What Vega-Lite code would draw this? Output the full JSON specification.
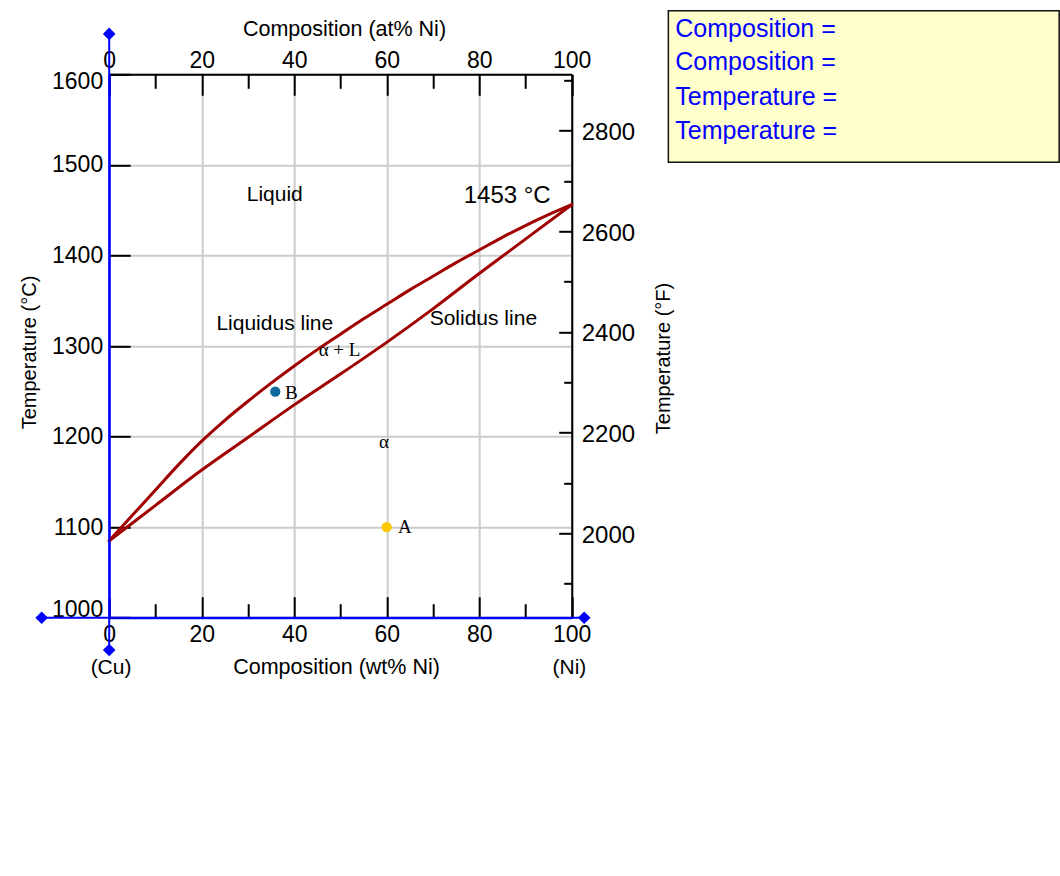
{
  "$schema": "https://vega.github.io/schema/vega-lite/v6.json",
  "width": 462.5,
  "height": 543.4,
  "autosize": {"type": "none"},
  "padding": {"left": 109.2, "top": 74.3, "right": 488.3, "bottom": 258.3},
  "background": "white",
  "config": {
    "view": {"stroke": null},
    "font": "Liberation Sans",
    "axis": {"labelFont": "Liberation Sans", "titleFont": "Liberation Sans", "labelColor": "black", "titleColor": "black", "titleFontWeight": "normal", "tickColor": "black", "tickWidth": 2, "domainWidth": 2}
  },
  "datasets": {
    "curves": [
      {"curve": "Liquidus", "wt": 0, "T": 1085}, {"curve": "Liquidus", "wt": 5, "T": 1113},
      {"curve": "Liquidus", "wt": 10, "T": 1141}, {"curve": "Liquidus", "wt": 15, "T": 1169}, {"curve": "Liquidus", "wt": 20, "T": 1195},
      {"curve": "Liquidus", "wt": 25, "T": 1218}, {"curve": "Liquidus", "wt": 30, "T": 1239}, {"curve": "Liquidus", "wt": 35, "T": 1259},
      {"curve": "Liquidus", "wt": 40, "T": 1278}, {"curve": "Liquidus", "wt": 45, "T": 1296}, {"curve": "Liquidus", "wt": 50, "T": 1313},
      {"curve": "Liquidus", "wt": 55, "T": 1330}, {"curve": "Liquidus", "wt": 60, "T": 1346}, {"curve": "Liquidus", "wt": 65, "T": 1362},
      {"curve": "Liquidus", "wt": 70, "T": 1377}, {"curve": "Liquidus", "wt": 75, "T": 1392}, {"curve": "Liquidus", "wt": 80, "T": 1406},
      {"curve": "Liquidus", "wt": 85, "T": 1420}, {"curve": "Liquidus", "wt": 90, "T": 1433}, {"curve": "Liquidus", "wt": 95, "T": 1445},
      {"curve": "Liquidus", "wt": 100, "T": 1456},
      {"curve": "Solidus", "wt": 0, "T": 1085}, {"curve": "Solidus", "wt": 10, "T": 1124}, {"curve": "Solidus", "wt": 20, "T": 1163},
      {"curve": "Solidus", "wt": 30, "T": 1199}, {"curve": "Solidus", "wt": 40, "T": 1235}, {"curve": "Solidus", "wt": 50, "T": 1269},
      {"curve": "Solidus", "wt": 60, "T": 1304}, {"curve": "Solidus", "wt": 70, "T": 1341}, {"curve": "Solidus", "wt": 80, "T": 1380},
      {"curve": "Solidus", "wt": 90, "T": 1418}, {"curve": "Solidus", "wt": 100, "T": 1456}
    ],
    "cursorLines": [
      {"wt": 0, "T": 1645.6, "wt2": 0, "T2": 964.3},
      {"wt": -14.6, "T": 1000, "wt2": 102.7, "T2": 1000}
    ],
    "handles": [
      {"wt": 0, "T": 1644.6}, {"wt": 0, "T": 964.3}, {"wt": -14.6, "T": 1000}, {"wt": 102.7, "T": 1000}
    ],
    "points": [
      {"name": "A", "wt": 60, "T": 1100},
      {"name": "B", "wt": 35.9, "T": 1249.5}
    ],
    "sansLabels": [
      {"label": "Liquid", "wt": 35.8, "T": 1460.4},
      {"label": "Liquidus line", "wt": 35.8, "T": 1317.6},
      {"label": "Solidus line", "wt": 80.9, "T": 1323.2},
      {"label": "(Cu)", "wt": 0.4, "T": 937.8},
      {"label": "(Ni)", "wt": 99.5, "T": 937.8}
    ],
    "meltLabel": [
      {"label": "1453 °C", "wt": 86.05, "T": 1457.6}
    ],
    "serifLabels": [
      {"label": "α + L", "wt": 49.8, "T": 1288.9},
      {"label": "α", "wt": 59.4, "T": 1187},
      {"label": "A", "wt": 63.9, "T": 1093.2},
      {"label": "B", "wt": 39.4, "T": 1241.1}
    ],
    "box": [
      {"wt": 120.9, "wt2": 205.4, "T": 1670.2, "T2": 1502.8}
    ],
    "boxText": [
      {"label": "Composition =", "wt": 122.4, "T": 1641.7},
      {"label": "Composition =", "wt": 122.4, "T": 1604.2},
      {"label": "Temperature =", "wt": 122.4, "T": 1566.6},
      {"label": "Temperature =", "wt": 122.4, "T": 1529.1}
    ]
  },
  "layer": [
    {
      "data": {"name": "curves"},
      "mark": {"type": "line", "color": "#a00000", "strokeWidth": 3, "interpolate": "monotone", "strokeJoin": "round", "strokeCap": "round"},
      "encoding": {
        "x": {
          "field": "wt", "type": "quantitative",
          "scale": {"domain": [0, 100], "nice": false, "zero": false},
          "axis": {
            "orient": "bottom",
            "values": [0, 10, 20, 30, 40, 50, 60, 70, 80, 90, 100],
            "labelExpr": "datum.value % 20 === 0 ? datum.label : ''",
            "labelFontSize": 23, "labelBaseline": "alphabetic", "labelPadding": 45, "labelFlush": false, "labelOverlap": false,
            "tickSize": {"condition": {"test": "datum.value % 20 === 0", "value": -21}, "value": -14},
            "domainColor": "#0000ff",
            "grid": true, "gridColor": "#cccccc", "gridWidth": 2,
            "gridOpacity": {"condition": {"test": "datum.value % 20 === 0", "value": 1}, "value": 0},
            "title": "Composition (wt% Ni)", "titleFontSize": 21.5, "titleX": 226.8, "titleY": 56, "titleBaseline": "alphabetic", "titleAlign": "center"
          }
        },
        "y": {
          "field": "T", "type": "quantitative",
          "scale": {"domain": [1000, 1600], "nice": false, "zero": false},
          "axis": {
            "orient": "left",
            "values": [1000, 1100, 1200, 1300, 1400, 1500, 1600],
            "format": "d",
            "labelFontSize": 23, "labelPadding": 27.5, "labelFlush": true, "labelFlushOffset": 3.5, "labelOverlap": false,
            "tickSize": -21,
            "domainColor": "#0000ff",
            "grid": true, "gridColor": "#cccccc", "gridWidth": 2,
            "title": "Temperature (°C)", "titleFontSize": 20, "titleAngle": 270, "titleX": -74.2, "titleY": 277.7, "titleBaseline": "alphabetic", "titleAlign": "center"
          }
        },
        "detail": {"field": "curve", "type": "nominal"}
      }
    },
    {
      "data": {"name": "curves"},
      "mark": {"type": "point", "opacity": 0},
      "encoding": {
        "x": {
          "field": "wt", "type": "quantitative",
          "axis": {
            "orient": "top",
            "values": [0, 10, 20, 30, 40, 50, 60, 70, 80, 90, 100],
            "labelExpr": "datum.value % 20 === 0 ? datum.label : ''",
            "labelFontSize": 23, "labelBaseline": "alphabetic", "labelPadding": 28, "labelFlush": false, "labelOverlap": false,
            "tickSize": {"condition": {"test": "datum.value % 20 === 0", "value": -21}, "value": -14},
            "domainColor": "black", "grid": false,
            "title": "Composition (at% Ni)", "titleFontSize": 21.5, "titleX": 234.8, "titleY": -39.3, "titleBaseline": "alphabetic", "titleAlign": "center"
          }
        }
      }
    },
    {
      "data": {"name": "curves"},
      "mark": {"type": "point", "opacity": 0},
      "encoding": {
        "y": {
          "field": "T", "type": "quantitative",
          "axis": {
            "orient": "right",
            "values": [1037.778, 1093.333, 1148.889, 1204.444, 1260, 1315.556, 1371.111, 1426.667, 1482.222, 1537.778, 1593.333],
            "labelExpr": "round(datum.value * 1.8 + 32) % 200 === 0 ? format(round(datum.value * 1.8 + 32), 'd') : ''",
            "labelFontSize": 24, "labelPadding": 22.5, "labelOffset": 2, "labelFlush": false, "labelOverlap": false,
            "tickSize": {"condition": {"test": "round(datum.value * 1.8 + 32) % 200 === 0", "value": -13}, "value": -8},
            "domainColor": "black", "grid": false,
            "title": "Temperature (°F)", "titleFontSize": 20, "titleAngle": 270, "titleX": 97.6, "titleY": 283.7, "titleBaseline": "alphabetic", "titleAlign": "center"
          }
        }
      }
    },
    {
      "data": {"name": "cursorLines"},
      "mark": {"type": "rule", "color": "#0000ff", "strokeWidth": 2},
      "encoding": {
        "x": {"field": "wt", "type": "quantitative", "axis": null},
        "x2": {"field": "wt2"},
        "y": {"field": "T", "type": "quantitative", "axis": null},
        "y2": {"field": "T2"}
      }
    },
    {
      "data": {"name": "handles"},
      "mark": {"type": "point", "shape": "diamond", "filled": true, "color": "#0000ff", "size": 160, "opacity": 1},
      "encoding": {
        "x": {"field": "wt", "type": "quantitative", "axis": null},
        "y": {"field": "T", "type": "quantitative", "axis": null}
      }
    },
    {
      "data": {"name": "points"},
      "mark": {"type": "circle", "size": 105, "opacity": 1},
      "encoding": {
        "x": {"field": "wt", "type": "quantitative", "axis": null},
        "y": {"field": "T", "type": "quantitative", "axis": null},
        "color": {"field": "name", "type": "nominal", "scale": {"domain": ["A", "B"], "range": ["#fcc800", "#0f6a9c"]}, "legend": null}
      }
    },
    {
      "data": {"name": "sansLabels"},
      "mark": {"type": "text", "font": "Liberation Sans", "fontSize": 21, "align": "center", "baseline": "alphabetic", "color": "black"},
      "encoding": {
        "x": {"field": "wt", "type": "quantitative", "axis": null},
        "y": {"field": "T", "type": "quantitative", "axis": null},
        "text": {"field": "label"}
      }
    },
    {
      "data": {"name": "meltLabel"},
      "mark": {"type": "text", "font": "Liberation Sans", "fontSize": 24, "align": "center", "baseline": "alphabetic", "color": "black"},
      "encoding": {
        "x": {"field": "wt", "type": "quantitative", "axis": null},
        "y": {"field": "T", "type": "quantitative", "axis": null},
        "text": {"field": "label"}
      }
    },
    {
      "data": {"name": "serifLabels"},
      "mark": {"type": "text", "font": "Liberation Serif", "fontSize": 19, "align": "center", "baseline": "alphabetic", "color": "black"},
      "encoding": {
        "x": {"field": "wt", "type": "quantitative", "axis": null},
        "y": {"field": "T", "type": "quantitative", "axis": null},
        "text": {"field": "label"}
      }
    },
    {
      "data": {"name": "box"},
      "mark": {"type": "rect", "fill": "#ffffcc", "stroke": "#111111", "strokeWidth": 1.5},
      "encoding": {
        "x": {"field": "wt", "type": "quantitative", "axis": null},
        "x2": {"field": "wt2"},
        "y": {"field": "T", "type": "quantitative", "axis": null},
        "y2": {"field": "T2"}
      }
    },
    {
      "data": {"name": "boxText"},
      "mark": {"type": "text", "font": "Liberation Sans", "fontSize": 25, "align": "left", "baseline": "alphabetic", "color": "#0000ff"},
      "encoding": {
        "x": {"field": "wt", "type": "quantitative", "axis": null},
        "y": {"field": "T", "type": "quantitative", "axis": null},
        "text": {"field": "label"}
      }
    }
  ],
  "resolve": {"axis": {"x": "independent", "y": "independent"}}
}
